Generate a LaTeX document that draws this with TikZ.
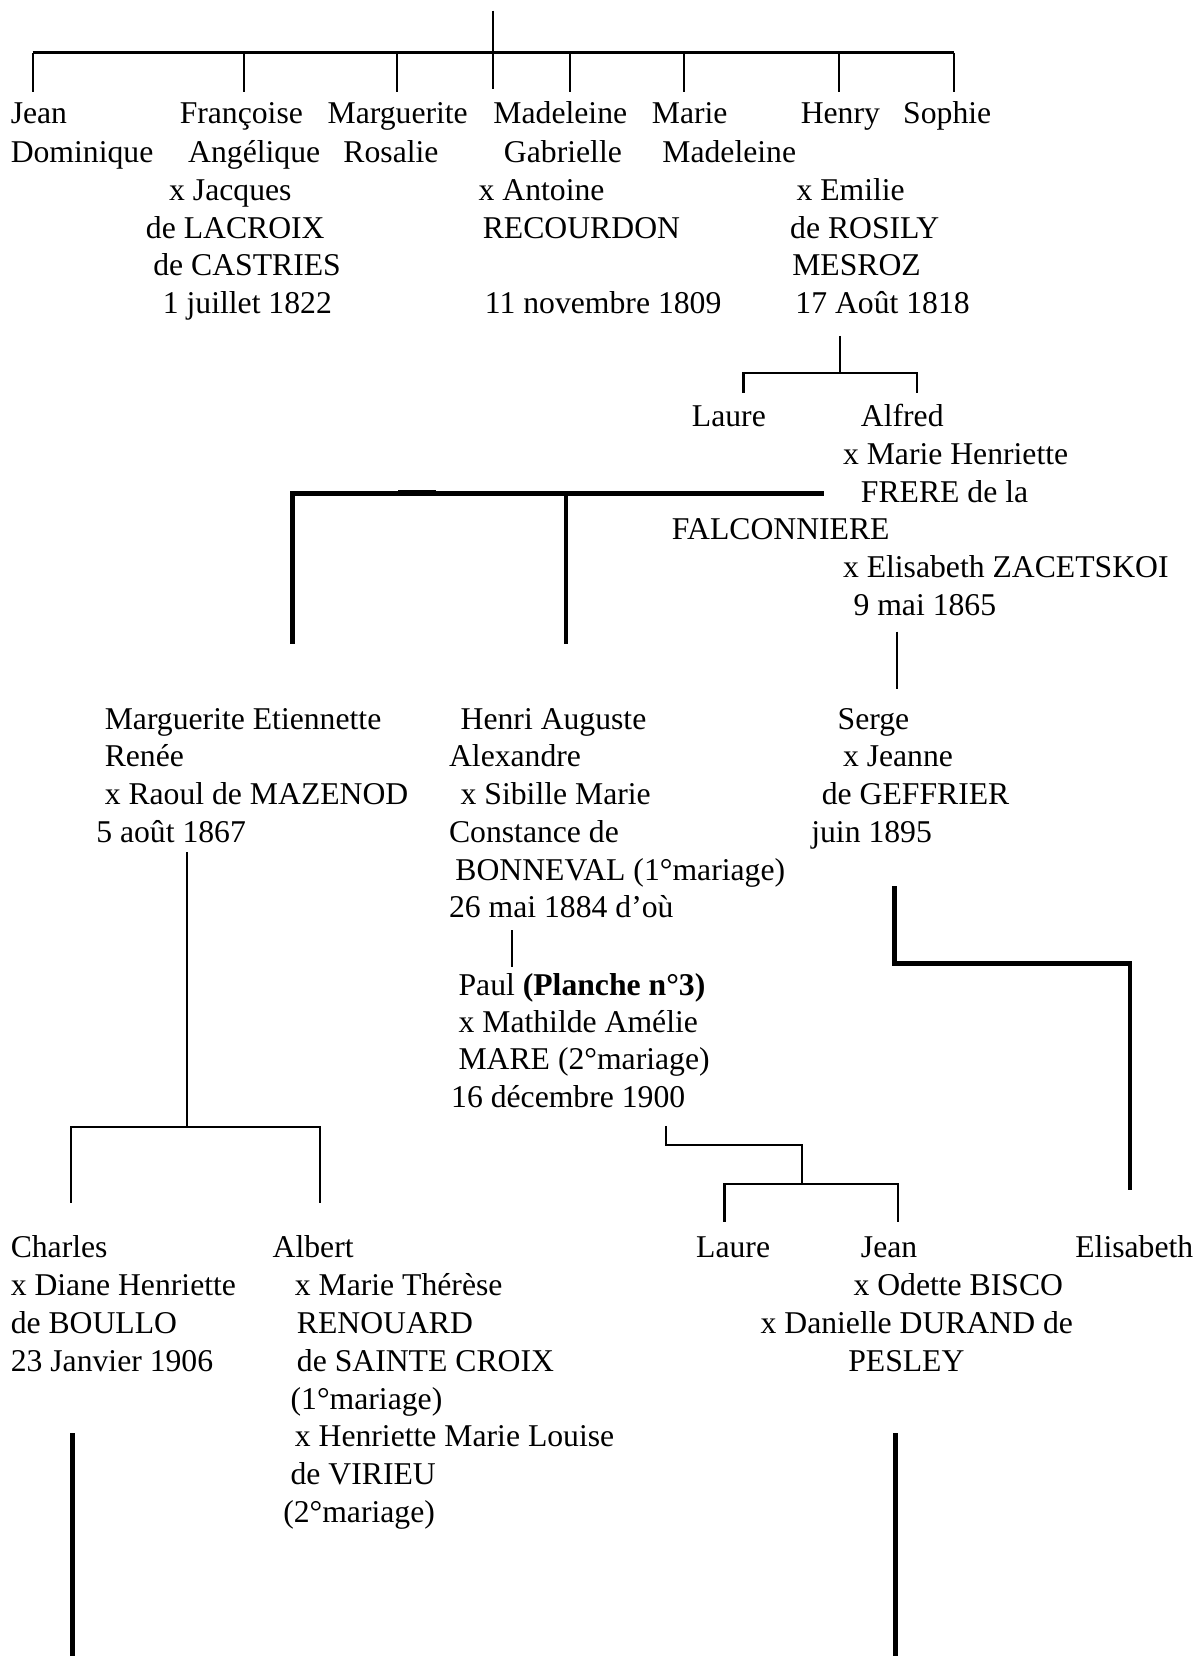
\documentclass[tikz,border=0pt]{standalone}
\usepackage{fontspec}
\setmainfont{Liberation Serif}
\begin{document}
\begin{tikzpicture}[x=1pt,y=-1pt,
  lbl/.style={anchor=base west, inner sep=0pt, font=\fontsize{30}{36}\selectfont},
  thinline/.style={line width=2pt, line join=miter},
  topline/.style={line width=2.6pt},
  thickline/.style={line width=4.5pt, line join=miter}]
\useasboundingbox (0,0) rectangle (1132,1568);

% ---------- generation 1 ----------
\node[lbl] (jean1) at (10,117) {Jean};
\node[lbl] (jean2) at (10,154) {Dominique};
\node[lbl] (fr1) at (170,117) {Françoise};
\node[lbl] (fr2) at (178,154) {Angélique};
\node[lbl] (fr3) at (160,190) {x Jacques};
\node[lbl] (fr4) at (138,226) {de LACROIX};
\node[lbl] (fr5) at (145,261) {de CASTRIES};
\node[lbl] (fr6) at (154,297) {1 juillet 1822};
\node[lbl] (mr1) at (310,117) {Marguerite};
\node[lbl] (mr2) at (325,154) {Rosalie};
\node[lbl] (mg1) at (467,117) {Madeleine};
\node[lbl] (mg2) at (477,154) {Gabrielle};
\node[lbl] (mg3) at (453,190) {x Antoine};
\node[lbl] (mg4) at (457,226) {RECOURDON};
\node[lbl] (mg6) at (459,297) {11 novembre 1809};
\node[lbl] (mm1) at (617,117) {Marie};
\node[lbl] (mm2) at (627,154) {Madeleine};
\node[lbl] (he1) at (758,117) {Henry};
\node[lbl] (he3) at (754,190) {x Emilie};
\node[lbl] (he4) at (748,226) {de ROSILY};
\node[lbl] (he5) at (750,261) {MESROZ};
\node[lbl] (he6) at (753,297) {17 Août 1818};
\node[lbl] (so1) at (855,117) {Sophie};

% ---------- generation 2 ----------
\node[lbl] (la1) at (655,404) {Laure};
\node[lbl] (al1) at (815,404) {Alfred};
\node[lbl] (al2) at (798,440) {x Marie Henriette};
\node[lbl] (al3) at (815,476) {FRERE de la};
\node[lbl] (al4) at (636,511) {FALCONNIERE};
\node[lbl] (al5) at (798,547) {x Elisabeth ZACETSKOI};
\node[lbl] (al6) at (808,583) {9 mai 1865};

% ---------- generation 3 ----------
\node[lbl] (me1) at (99,691) {Marguerite Etiennette};
\node[lbl] (me2) at (99,726) {Renée};
\node[lbl] (me3) at (99,762) {x Raoul de MAZENOD};
\node[lbl] (me4) at (91,798) {5 août 1867};
\node[lbl] (ha1) at (436,691) {Henri Auguste};
\node[lbl] (ha2) at (425,726) {Alexandre};
\node[lbl] (ha3) at (436,762) {x Sibille Marie};
\node[lbl] (ha4) at (425,798) {Constance de};
\node[lbl] (ha5) at (431,834) {BONNEVAL (1°mariage)};
\node[lbl] (ha6) at (425,869) {26 mai 1884 d’où};
\node[lbl] (pa1) at (434,943) {Paul \textbf{(Planche n°3)}};
\node[lbl] (pa2) at (434,978) {x Mathilde Amélie};
\node[lbl] (pa3) at (434,1013) {MARE (2°mariage)};
\node[lbl] (pa4) at (427,1049) {16 décembre 1900};
\node[lbl] (se1) at (793,691) {Serge};
\node[lbl] (se2) at (798,726) {x Jeanne};
\node[lbl] (se3) at (778,762) {de GEFFRIER};
\node[lbl] (se4) at (768,798) {juin 1895};

% ---------- generation 4 ----------
\node[lbl] (ch1) at (10,1191) {Charles};
\node[lbl] (ch2) at (10,1227) {x Diane Henriette};
\node[lbl] (ch3) at (10,1263) {de BOULLO};
\node[lbl] (ch4) at (10,1299) {23 Janvier 1906};
\node[lbl] (ab1) at (258,1191) {Albert};
\node[lbl] (ab2) at (279,1227) {x Marie Thérèse};
\node[lbl] (ab3) at (281,1263) {RENOUARD};
\node[lbl] (ab4) at (281,1299) {de SAINTE CROIX};
\node[lbl] (ab5) at (275,1335) {(1°mariage)};
\node[lbl] (ab6) at (279,1370) {x Henriette Marie Louise};
\node[lbl] (ab7) at (275,1406) {de VIRIEU};
\node[lbl] (ab8) at (268,1442) {(2°mariage)};
\node[lbl] (lb1) at (659,1191) {Laure};
\node[lbl] (je1) at (815,1191) {Jean};
\node[lbl] (je2) at (808,1227) {x Odette BISCO};
\node[lbl] (je3) at (720,1263) {x Danielle DURAND de};
\node[lbl] (je4) at (803,1299) {PESLEY};
\node[lbl] (el1) at (1018,1191) {Elisabeth};

% ---------- tree coordinates ----------
\coordinate (r0) at (467,10);
\coordinate (rL) at (31,50);
\coordinate (rR) at (903,50);
\foreach \n/\xx/\yy in {d1/31/87, d2/231/87, d3/376/87, d4/467/84, d5/540/87, d6/648/87, d7/794/87, d8/903/87}{
  \coordinate (\n t) at (\xx,50);
  \coordinate (\n b) at (\xx,\yy);
}
\draw[thinline] (r0) -- (d4t);
\draw[topline] (rL) -- (rR);
\foreach \n in {d1,d2,d3,d4,d5,d6,d7,d8}{\draw[thinline] (\n t) -- (\n b);}

% Henry's children
\coordinate (h0) at (795,318);
\coordinate (h1) at (795,353);
\coordinate (hL) at (704,353);
\coordinate (hR) at (868,353);
\coordinate (hLb) at (704,372);
\coordinate (hRb) at (868,372);
\draw[thinline] (h0) -- (h1);
\draw[thinline] (hLb) -- (hL) -- (hR) -- (hRb);

% Alfred's children (thick)
\coordinate (aR) at (780,467);
\coordinate (aL) at (277,467);
\coordinate (aM) at (536,467);
\coordinate (aLb) at (277,610);
\coordinate (aMb) at (536,610);
\draw[thickline] (aR) -- (aL) -- (aLb);
\draw[thickline] (aM) -- (aMb);
\coordinate (k1) at (377,464.5);
\coordinate (k2) at (413,464.5);
\draw[line width=1.6pt] (k1) -- (k2);
\coordinate (s0) at (849,598);
\coordinate (s1) at (849,652);
\draw[thinline] (s0) -- (s1);

% Marguerite's children
\coordinate (m0) at (177,807);
\coordinate (m1) at (177,1067);
\coordinate (mL) at (67,1067);
\coordinate (mR) at (303,1067);
\coordinate (mLb) at (67,1139);
\coordinate (mRb) at (303,1139);
\draw[thinline] (m0) -- (m1);
\draw[thinline] (mLb) -- (mL) -- (mR) -- (mRb);

% Henri Auguste -> Paul
\coordinate (p0) at (485,881);
\coordinate (p1) at (485,916);
\draw[thinline] (p0) -- (p1);

% Paul's children
\coordinate (q0) at (631,1066);
\coordinate (q1) at (631,1084);
\coordinate (q2) at (759,1084);
\coordinate (q3) at (759,1121);
\coordinate (qL) at (686,1121);
\coordinate (qR) at (850,1121);
\coordinate (qLb) at (686,1157);
\coordinate (qRb) at (850,1157);
\draw[thinline] (q0) -- (q1) -- (q2) -- (q3);
\draw[thinline] (qLb) -- (qL) -- (qR) -- (qRb);

% Serge -> Elisabeth (thick elbow)
\coordinate (t0) at (847,839);
\coordinate (t1) at (847,912);
\coordinate (t2) at (1070,912);
\coordinate (t3) at (1070,1127);
\draw[thickline] (t0) -- (t1) -- (t2) -- (t3);

% bottom continuations
\coordinate (b1t) at (69,1357);
\coordinate (b1b) at (69,1568);
\coordinate (b2t) at (848,1357);
\coordinate (b2b) at (848,1568);
\draw[thickline] (b1t) -- (b1b);
\draw[thickline] (b2t) -- (b2b);
\end{tikzpicture}
\end{document}
